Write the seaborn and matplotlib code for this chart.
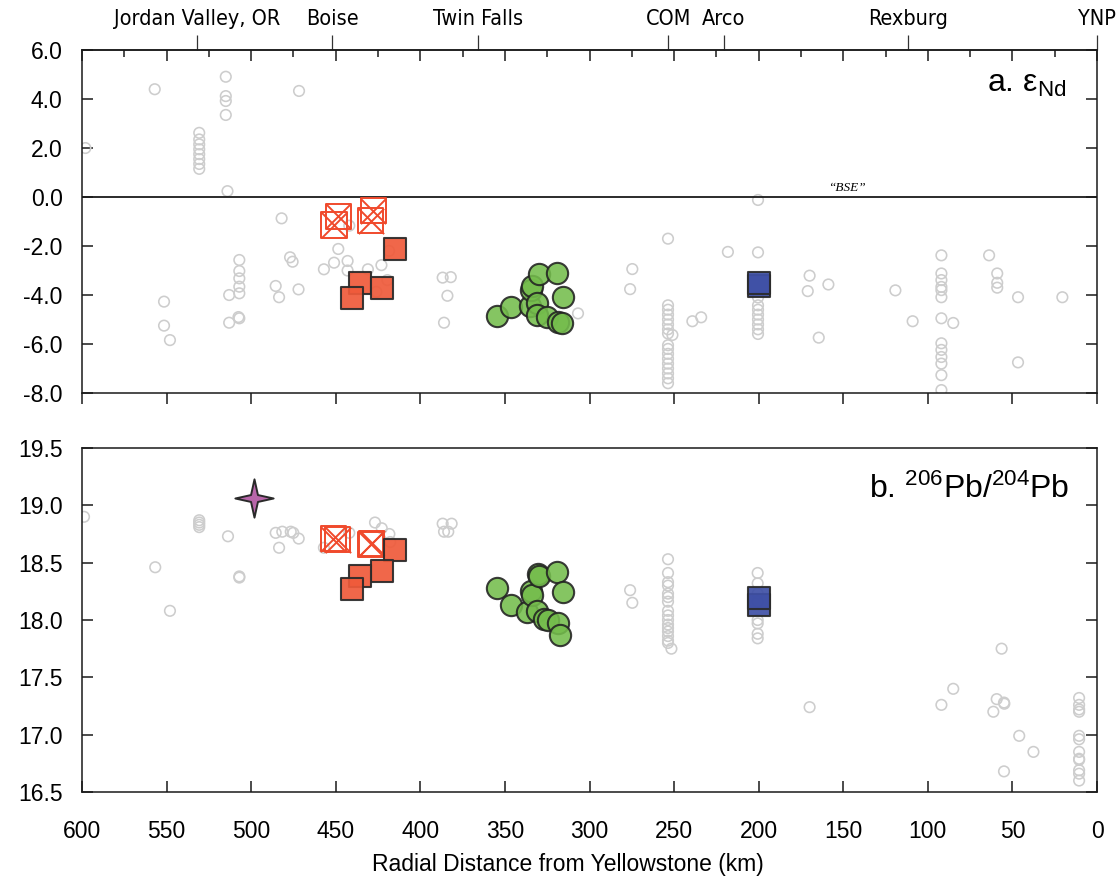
import numpy as np
import matplotlib
matplotlib.use("Agg")
import matplotlib.pyplot as plt
from matplotlib.path import Path
from matplotlib import font_manager
import seaborn as sns

# ---------------- DATA ----------------
# Panel a: eps Nd, gray reference field
gray_a_km = [598, 557,
             530.7, 530.7, 530.7, 530.7, 530.7, 530.7, 530.7, 530.7,
             515, 515, 515, 515, 514, 471.7, 482,
             551.5, 551.5, 548,
             507, 507, 507, 507, 507, 507, 507.5, 513, 513,
             485.5, 483.5, 477, 475.5, 472, 457, 451, 448.5, 442, 443, 443,
             431, 423, 419.5, 426, 418.5,
             386.8, 382, 384, 386, 306.8, 274.7, 276,
             253.6, 253.6, 253.6, 253.6, 253.6, 253.6, 253.6, 253.6, 253.6,
             253.6, 253.6, 253.6, 253.6, 253.6, 253.6, 253.6, 253.6, 251,
             239.2, 234, 218.2,
             200.4, 200.4, 200.4, 200.4, 200.4, 200.4, 200.4, 200.4, 200.4, 200.4,
             169.9, 171, 158.8, 164.5, 119.2, 109,
             92, 92, 92, 92, 92, 92, 92, 92, 92, 92, 92, 92, 92,
             85, 63.8, 59, 59, 59, 46.7, 46.7, 20.5]
gray_a_eps = [2.0, 4.4,
              2.62, 2.35, 2.15, 1.95, 1.75, 1.55, 1.35, 1.15,
              4.91, 4.12, 3.92, 3.35, 0.24, 4.33, -0.87,
              -4.27, -5.25, -5.84,
              -2.57, -3.02, -3.32, -3.66, -3.93, -4.95, -4.90, -4.0, -5.13,
              -3.63, -4.09, -2.46, -2.64, -3.77, -2.95, -2.68, -2.12, -1.17, -2.61, -3.0,
              -2.95, -2.78, -3.39, -3.87, -2.2,
              -3.29, -3.27, -4.03, -5.13, -4.75, -2.94, -3.76,
              -1.70, -4.42, -4.6, -4.8, -5.0, -5.2, -5.4, -5.57, -6.05,
              -6.2, -6.4, -6.6, -6.8, -7.0, -7.2, -7.4, -7.6, -5.63,
              -5.07, -4.91, -2.24,
              -0.12, -2.26, -4.1, -4.42, -4.6, -4.8, -5.0, -5.2, -5.4, -5.59,
              -3.21, -3.84, -3.57, -5.74, -3.81, -5.07,
              -2.38, -3.12, -3.39, -3.67, -3.8, -4.09, -4.95, -5.97, -6.24, -6.53, -6.8, -7.27, -7.88,
              -5.14, -2.38, -3.12, -3.5, -3.7, -4.09, -6.75, -4.09]

# Panel a: sample groups
red_a_km = [415, 435.7, 422.7, 440.6]
red_a_eps = [-2.13, -3.50, -3.73, -4.11]
redx_a_km = [448.5, 451, 427.8, 429.4]
redx_a_eps = [-0.78, -1.14, -0.56, -0.97]
green_a_km = [354.9, 346.6, 335, 334.6, 334.2, 330.8, 330.8, 329.8, 325.3, 319.2, 318.4, 316.5, 315.4]
green_a_eps = [-4.85, -4.48, -4.45, -3.80, -3.63, -4.31, -4.82, -3.14, -4.88, -3.11, -5.09, -5.16, -4.10]
blue_a_km = [200, 200]
blue_a_eps = [-3.64, -3.50]

# Panel b: 206Pb/204Pb, gray reference field
gray_b_km = [598.8, 530.7, 530.7, 530.7, 530.7, 556.7, 548, 513.7, 507, 507,
             485.5, 481.6, 476.6, 475.1, 471.9, 483.5, 457, 442,
             426.8, 422.8, 418.3, 417.8, 386.8, 381.5, 386, 383.5,
             276, 274.7,
             253.6, 253.6, 253.6, 253.6, 253.6, 253.6, 253.6, 253.6,
             253.6, 253.6, 253.6, 253.6, 253.6, 253.6, 253.6, 253.6, 251.6,
             200.6, 200.6, 200.6, 200.6, 200.6, 200.6, 200.6, 200.6,
             169.9, 92, 85, 59.3, 61.3, 55, 54.8, 56.4, 46, 37.6, 55,
             10.6, 10.6, 10.6, 10.6, 10.6, 10.6, 10.6, 10.6, 10.6, 10.6, 10.6, 10.6]
gray_b_pb = [18.90, 18.87, 18.85, 18.83, 18.81, 18.46, 18.08, 18.73, 18.38, 18.37,
             18.76, 18.77, 18.77, 18.76, 18.71, 18.63, 18.63, 18.76,
             18.85, 18.80, 18.75, 18.68, 18.84, 18.84, 18.77, 18.77,
             18.26, 18.15,
             18.53, 18.41, 18.33, 18.30, 18.23, 18.20, 18.16, 18.08,
             18.04, 18.00, 17.96, 17.93, 17.90, 17.86, 17.82, 17.80, 17.75,
             18.41, 18.32, 18.23, 18.16, 18.00, 17.97, 17.88, 17.84,
             17.24, 17.26, 17.40, 17.31, 17.20, 17.28, 17.27, 17.75, 16.99, 16.85, 16.68,
             17.32, 17.26, 17.22, 17.20, 16.99, 16.96, 16.85, 16.79, 16.78, 16.69, 16.66, 16.60]

red_b_km = [415, 422.7, 435.7, 440.6]
red_b_pb = [18.61, 18.43, 18.38, 18.27]
redx_b_km = [451.4, 448.9, 428.8, 429.4]
redx_b_pb = [18.71, 18.70, 18.67, 18.66]
green_b_km = [354.9, 346.6, 337.2, 334.8, 334, 330.8, 330.6, 330, 326.9, 324.5, 319.2, 318.8, 317.4, 315.4]
green_b_pb = [18.28, 18.13, 18.07, 18.25, 18.22, 18.08, 18.40, 18.38, 18.01, 18.0, 18.42, 17.97, 17.87, 18.24]
blue_b_km = [200, 200]
blue_b_pb = [18.13, 18.19]
star_b_km = [498.3]
star_b_pb = [19.06]

# Places along the track (top axis)
place_names = ["Jordan Valley, OR", "Boise", "Twin Falls", "COM", "Arco", "Rexburg", "YNP"]
place_km = [532, 452, 366, 253.5, 220.5, 112, 0]

# ---------------- STYLE ----------------
sns.set_style("white")
plt.rcParams['font.family'] = ['Liberation Sans', 'DejaVu Sans']
plt.rcParams['axes.unicode_minus'] = False
plt.rcParams['mathtext.fontset'] = 'custom'
plt.rcParams['mathtext.rm'] = 'Liberation Sans'
plt.rcParams['mathtext.it'] = 'Liberation Sans:italic'
plt.rcParams['mathtext.bf'] = 'Liberation Sans:bold'
for k in ('text.color', 'axes.labelcolor', 'xtick.color', 'ytick.color',
          'xtick.labelcolor', 'ytick.labelcolor'):
    plt.rcParams[k] = 'black'

# a condensed face for the place names if one is installed
place_font = dict(family=['Liberation Sans', 'DejaVu Sans'], size=15)
for f in font_manager.fontManager.ttflist:
    if 'Narrow' in f.name or 'Condensed' in f.name:
        place_font = dict(family=[f.name, 'DejaVu Sans'], size=15.5)
        break
    if f.stretch in ('condensed', 'semi-condensed', 'extra-condensed') and f.style == 'normal' \
            and f.weight in (400, 'normal', 'regular'):
        place_font = dict(family=[f.name, 'DejaVu Sans'], stretch=f.stretch, size=15.5)
        break

SPINE = '#1a1a1a'
GRAY = '#cdcdcd'
TICKFS = 16.5

fig = plt.figure(figsize=(11.2, 8.81), dpi=100)
ax_a = fig.add_axes([0.0732, 0.5539, 0.9063, 0.3893])
ax_b = fig.add_axes([0.0732, 0.1010, 0.9063, 0.3905])

star_path = Path([(0, 1), (0.18, 0.18), (1, 0), (0.18, -0.18), (0, -1),
                  (-0.18, -0.18), (-1, 0), (-0.18, 0.18), (0, 1)],
                 [Path.MOVETO] + [Path.LINETO] * 7 + [Path.CLOSEPOLY])


def gray_pts(ax, x, y):
    sns.scatterplot(x=x, y=y, ax=ax, marker='o', s=58, facecolor='none',
                    edgecolor=GRAY, linewidth=1.15, legend=False, zorder=2)


def red_pts(ax, x, y):
    sns.scatterplot(x=x, y=y, ax=ax, marker='s', s=235, facecolor='#ef5a3a',
                    edgecolor='#2a2a2a', linewidth=1.5, alpha=0.92, legend=False, zorder=4)


def redx_pts(ax, x, y):
    sns.scatterplot(x=x, y=y, ax=ax, marker='s', s=330, facecolor='none',
                    edgecolor='#f04a2c', linewidth=1.4, legend=False, zorder=4)
    sns.scatterplot(x=x, y=y, ax=ax, marker='x', s=330, color='#f04a2c',
                    linewidth=1.4, legend=False, zorder=4)


def green_pts(ax, x, y):
    sns.scatterplot(x=x, y=y, ax=ax, marker='o', s=235, facecolor='#74bd4c',
                    edgecolor='#222222', linewidth=1.5, alpha=0.88, legend=False, zorder=5)


def blue_pts(ax, x, y):
    sns.scatterplot(x=x, y=y, ax=ax, marker='s', s=235, facecolor='#3f50a6',
                    edgecolor='#2a2a2a', linewidth=1.5, alpha=0.92, legend=False, zorder=5)


# Panel a
gray_pts(ax_a, gray_a_km, gray_a_eps)
redx_pts(ax_a, redx_a_km, redx_a_eps)
red_pts(ax_a, red_a_km, red_a_eps)
green_pts(ax_a, green_a_km, green_a_eps)
blue_pts(ax_a, blue_a_km, blue_a_eps)
ax_a.axhline(0, color=SPINE, lw=1.3, zorder=3)
ax_a.text(148, 0.12, '\u201cBSE\u201d', family=['Liberation Serif', 'DejaVu Serif'],
          style='italic', fontsize=9.5, ha='center', va='bottom')

# Panel b
gray_pts(ax_b, gray_b_km, gray_b_pb)
redx_pts(ax_b, redx_b_km, redx_b_pb)
red_pts(ax_b, red_b_km, red_b_pb)
green_pts(ax_b, green_b_km, green_b_pb)
blue_pts(ax_b, blue_b_km, blue_b_pb)
sns.scatterplot(x=star_b_km, y=star_b_pb, ax=ax_b, marker=star_path, s=760,
                facecolor='#b866aa', edgecolor='#2a2a2a', linewidth=1.4,
                legend=False, zorder=6)

for ax in (ax_a, ax_b):
    ax.set_xlim(600, 0)
    ax.set_xticks(np.arange(0, 601, 50))
    ax.set_xlabel('')
    ax.set_ylabel('')
    for sp in ax.spines.values():
        sp.set_visible(True)
        sp.set_color(SPINE)
        sp.set_linewidth(1.1)
    ax.tick_params(axis='y', which='major', direction='in', length=8, width=1.1,
                   color=SPINE, left=True, right=True, labelleft=True,
                   labelright=False, labelsize=TICKFS, pad=14, labelcolor='black')

# panel a axes specifics
ax_a.set_ylim(-8, 6)
ax_a.set_yticks(np.arange(-8, 6.01, 2))
ax_a.set_yticklabels([f'{v:.1f}' for v in np.arange(-8, 6.01, 2)])
ax_a.tick_params(axis='x', which='major', direction='out', length=8, width=1.1,
                 color=SPINE, bottom=True, top=False, labelbottom=False)

sec_in = ax_a.secondary_xaxis('top')
sec_in.set_xticks(np.arange(0, 601, 50))
sec_in.set_xticks(np.arange(25, 601, 50), minor=True)
sec_in.tick_params(axis='x', which='major', direction='in', length=8, width=1.1,
                   color=SPINE, labeltop=False)
sec_in.tick_params(axis='x', which='minor', direction='in', length=5, width=1.1,
                   color=SPINE)
sec_in.spines['top'].set_color(SPINE)
sec_in.spines['top'].set_linewidth(1.1)

sec_pl = ax_a.secondary_xaxis('top')
sec_pl.set_xticks(place_km)
sec_pl.set_xticklabels(place_names, **place_font)
sec_pl.tick_params(axis='x', which='major', direction='out', length=11, width=0.9,
                   color='#333333', pad=4, labelcolor='black')
sec_pl.spines['top'].set_visible(False)

ax_a.text(0.970, 0.878, 'a. \u03b5$_{\\mathregular{Nd}}$', transform=ax_a.transAxes,
          ha='right', va='baseline', fontsize=23, color='black')

# panel b axes specifics
ax_b.set_ylim(16.5, 19.5)
ax_b.set_yticks(np.arange(16.5, 19.51, 0.5))
ax_b.set_yticklabels([f'{v:.1f}' for v in np.arange(16.5, 19.51, 0.5)])
ax_b.tick_params(axis='x', which='major', direction='in', length=8, width=1.1,
                 color=SPINE, bottom=True, top=False, labelbottom=True,
                 labelsize=TICKFS, pad=20, labelcolor='black')
ax_b.set_xticklabels([str(v) for v in np.arange(0, 601, 50)])
ax_b.set_xlabel('Radial Distance from Yellowstone (km)', fontsize=16.5, color='black')
ax_b.xaxis.set_label_coords((568 - 82) / 1015, (792 - 853) / 344)
ax_b.text(0.973, 0.855, 'b. $^{\\mathregular{206}}$Pb/$^{\\mathregular{204}}$Pb',
          transform=ax_b.transAxes, ha='right', va='baseline', fontsize=23, color='black')

fig.savefig('out.png', dpi=100)
